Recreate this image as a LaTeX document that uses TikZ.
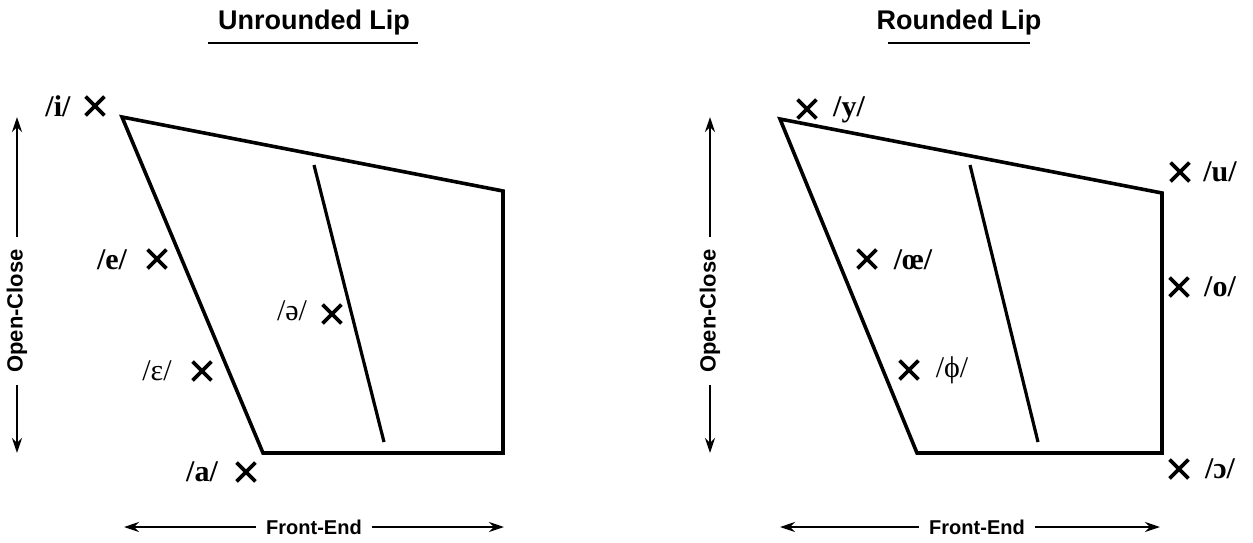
\documentclass[tikz,border=0pt]{standalone}
\usepackage{fontspec}
\setmainfont{Liberation Serif}
\newfontfamily\hdfont{Liberation Sans}
\usetikzlibrary{shapes.misc,arrows.meta}
\begin{document}
\begin{tikzpicture}[x=1pt,y=-1pt,
  chart/.style={line width=3.6pt,line join=miter},
  midline/.style={line width=3.2pt},
  xm/.style={draw,cross out,line width=3.8pt,minimum size=15pt,inner sep=0pt},
  lab/.style={font=\fontsize{30}{32}\selectfont\bfseries,inner sep=0pt},
  labr/.style={font=\fontsize{30}{32}\selectfont,inner sep=0pt},
  ttl/.style={font=\hdfont\fontsize{27}{30}\selectfont\bfseries,inner sep=0pt},
  axl/.style={font=\hdfont\fontsize{20}{22}\selectfont\bfseries,inner xsep=10pt,inner ysep=2pt},
  axlv/.style={font=\hdfont\fontsize{22}{24}\selectfont\bfseries,inner xsep=12pt,inner ysep=2pt},
  arr/.style={line width=2.6pt,-{Stealth[length=15pt,width=10pt]}}]
\useasboundingbox (0,0) rectangle (1253,542);

% ---------------- Left: Unrounded ----------------
\node[ttl] (t1) at (314,23) {Unrounded Lip};
\coordinate (u1a) at (208,43); \coordinate (u1b) at (418,43);
\draw[line width=2.6pt] (u1a) -- (u1b);

\coordinate (a1) at (122,117);
\coordinate (b1) at (503,191);
\coordinate (c1) at (503,453);
\coordinate (d1) at (263,453);
\draw[chart] (a1) -- (b1) -- (c1) -- (d1) -- cycle;
\coordinate (m1t) at (314,165); \coordinate (m1b) at (384,442);
\draw[midline] (m1t) -- (m1b);

\node[xm] (xi) at (95,106) {};
\node[lab] (li) at (58,106) {/i/};
\node[xm] (xe) at (157,259) {};
\node[lab] (le) at (112,260) {/e/};
\node[xm] (xeps) at (202,371) {};
\node[labr] (leps) at (157,371) {/ε/};
\node[xm] (xa) at (246,472) {};
\node[lab] (la) at (202,472) {/a/};
\node[xm] (xschwa) at (332,314) {};
\node[labr] (lschwa) at (292,311) {/ə/};

\node[axlv,rotate=90] (oc1) at (17,311) {Open-Close};
\coordinate (oc1t) at (17,117); \coordinate (oc1b) at (17,453);
\draw[arr] (oc1) -- (oc1t);
\draw[arr] (oc1) -- (oc1b);

\node[axl] (fe1) at (314,527) {Front-End};
\coordinate (fe1l) at (124,527); \coordinate (fe1r) at (504,527);
\draw[arr] (fe1) -- (fe1l);
\draw[arr] (fe1) -- (fe1r);

% ---------------- Right: Rounded ----------------
\node[ttl] (t2) at (959,23) {Rounded Lip};
\coordinate (u2a) at (888,43); \coordinate (u2b) at (1030,43);
\draw[line width=2.6pt] (u2a) -- (u2b);

\coordinate (a2) at (780,119);
\coordinate (b2) at (1162,193);
\coordinate (c2) at (1162,453);
\coordinate (d2) at (917,453);
\draw[chart] (a2) -- (b2) -- (c2) -- (d2) -- cycle;
\coordinate (m2t) at (970,165); \coordinate (m2b) at (1038,442);
\draw[midline] (m2t) -- (m2b);

\node[xm] (xy) at (807,109) {};
\node[lab] (ly) at (849,110) {/y/};
\node[xm] (xu) at (1180,172) {};
\node[lab] (lu) at (1220,172) {/u/};
\node[xm] (xoe) at (867,259) {};
\node[lab] (loe) at (913,260) {/œ/};
\node[xm] (xo) at (1179,287) {};
\node[lab] (lo) at (1220,287) {/o/};
\node[xm] (xphi) at (909,370) {};
\node[labr] (lphi) at (952,370) {/ϕ/};
\node[xm] (xoo) at (1179,469) {};
\node[lab] (loo) at (1220,469) {/ɔ/};

\node[axlv,rotate=90] (oc2) at (710,311) {Open-Close};
\coordinate (oc2t) at (710,117); \coordinate (oc2b) at (710,453);
\draw[arr] (oc2) -- (oc2t);
\draw[arr] (oc2) -- (oc2b);

\node[axl] (fe2) at (977,527) {Front-End};
\coordinate (fe2l) at (780,527); \coordinate (fe2r) at (1160,527);
\draw[arr] (fe2) -- (fe2l);
\draw[arr] (fe2) -- (fe2r);
\end{tikzpicture}
\end{document}
